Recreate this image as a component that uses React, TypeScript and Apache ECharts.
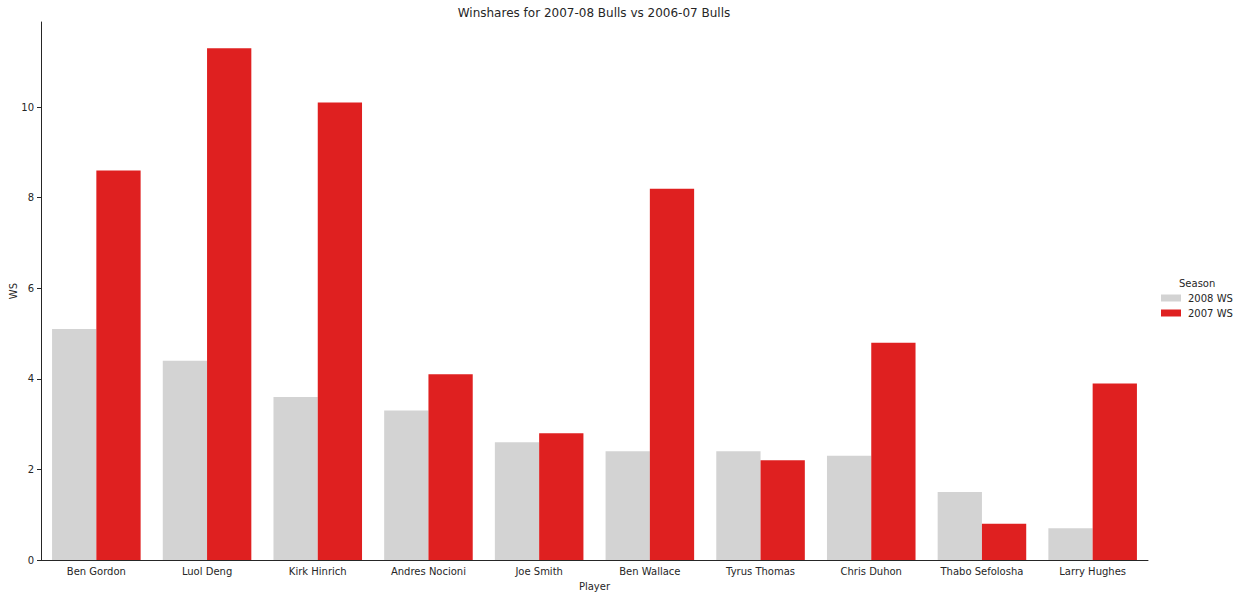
import React, { useEffect, useRef } from 'react';
import * as echarts from 'echarts';

const players = [
  'Ben Gordon',
  'Luol Deng',
  'Kirk Hinrich',
  'Andres Nocioni',
  'Joe Smith',
  'Ben Wallace',
  'Tyrus Thomas',
  'Chris Duhon',
  'Thabo Sefolosha',
  'Larry Hughes',
];
const ws2008 = [5.1, 4.4, 3.6, 3.3, 2.6, 2.4, 2.4, 2.3, 1.5, 0.7];
const ws2007 = [8.6, 11.3, 10.1, 4.1, 2.8, 8.2, 2.2, 4.8, 0.8, 3.9];
const seasons = ['2008 WS', '2007 WS'];

const FONT = '"DejaVu Sans", sans-serif';
const TEXT = '#262626';

export default function App() {
  const ref = useRef<HTMLDivElement | null>(null);

  useEffect(() => {
    if (!ref.current) return undefined;
    const chart = echarts.init(ref.current, undefined, { renderer: 'svg' });
    chart.setOption({
      animation: false,
      textStyle: { fontFamily: FONT },
      title: {
        text: 'Winshares for 2007-08 Bulls vs 2006-07 Bulls',
        left: 589,
        textAlign: 'center',
        top: 2,
        textStyle: { fontFamily: FONT, fontSize: 12, fontWeight: 'normal', color: TEXT },
      },
      legend: {
        data: seasons,
        orient: 'vertical',
        left: 1156,
        top: 288,
        itemWidth: 20,
        itemHeight: 7,
        itemGap: 5,
        icon: 'rect',
        textStyle: { fontFamily: FONT, fontSize: 10, color: TEXT, padding: [0, 0, 0, 2] },
      },
      graphic: [
        {
          type: 'text',
          left: 1179,
          top: 278,
          style: { text: 'Season', font: `10px ${FONT}`, fill: TEXT },
        },
      ],
      grid: { left: 41, right: 95, top: 22, bottom: 38, containLabel: false, outerBoundsMode: 'none' },
      xAxis: {
        type: 'category',
        data: players,
        name: 'Player',
        nameLocation: 'middle',
        nameGap: 21,
        nameMoveOverlap: false,
        nameTextStyle: { fontFamily: FONT, fontSize: 10, color: TEXT },
        axisLine: { lineStyle: { color: '#262626', width: 1 } },
        axisTick: { alignWithLabel: true, length: 4, lineStyle: { color: '#262626' } },
        axisLabel: { fontFamily: FONT, fontSize: 10, color: TEXT, margin: 6 },
      },
      yAxis: {
        type: 'value',
        min: 0,
        max: 11.88,
        interval: 2,
        name: 'WS',
        nameLocation: 'middle',
        nameGap: 23,
        nameMoveOverlap: false,
        nameTextStyle: { fontFamily: FONT, fontSize: 10, color: TEXT },
        axisLine: { show: true, lineStyle: { color: '#262626', width: 1 } },
        axisTick: { show: true, length: 4, lineStyle: { color: '#262626' } },
        axisLabel: { fontFamily: FONT, fontSize: 10, color: TEXT, margin: 7, showMaxLabel: false },
        splitLine: { show: false },
      },
      series: [
        {
          name: seasons[0],
          type: 'bar',
          data: ws2008,
          itemStyle: { color: '#d3d3d3' },
          barGap: '0%',
          barCategoryGap: '20%',
        },
        {
          name: seasons[1],
          type: 'bar',
          data: ws2007,
          itemStyle: { color: '#df2020' },
          barGap: '0%',
          barCategoryGap: '20%',
        },
      ],
    });
    return () => chart.dispose();
  }, []);

  return (
    <div
      ref={ref}
      style={{ position: 'absolute', left: 0, top: 0, width: 1243, height: 598, background: '#fff' }}
    />
  );
}
